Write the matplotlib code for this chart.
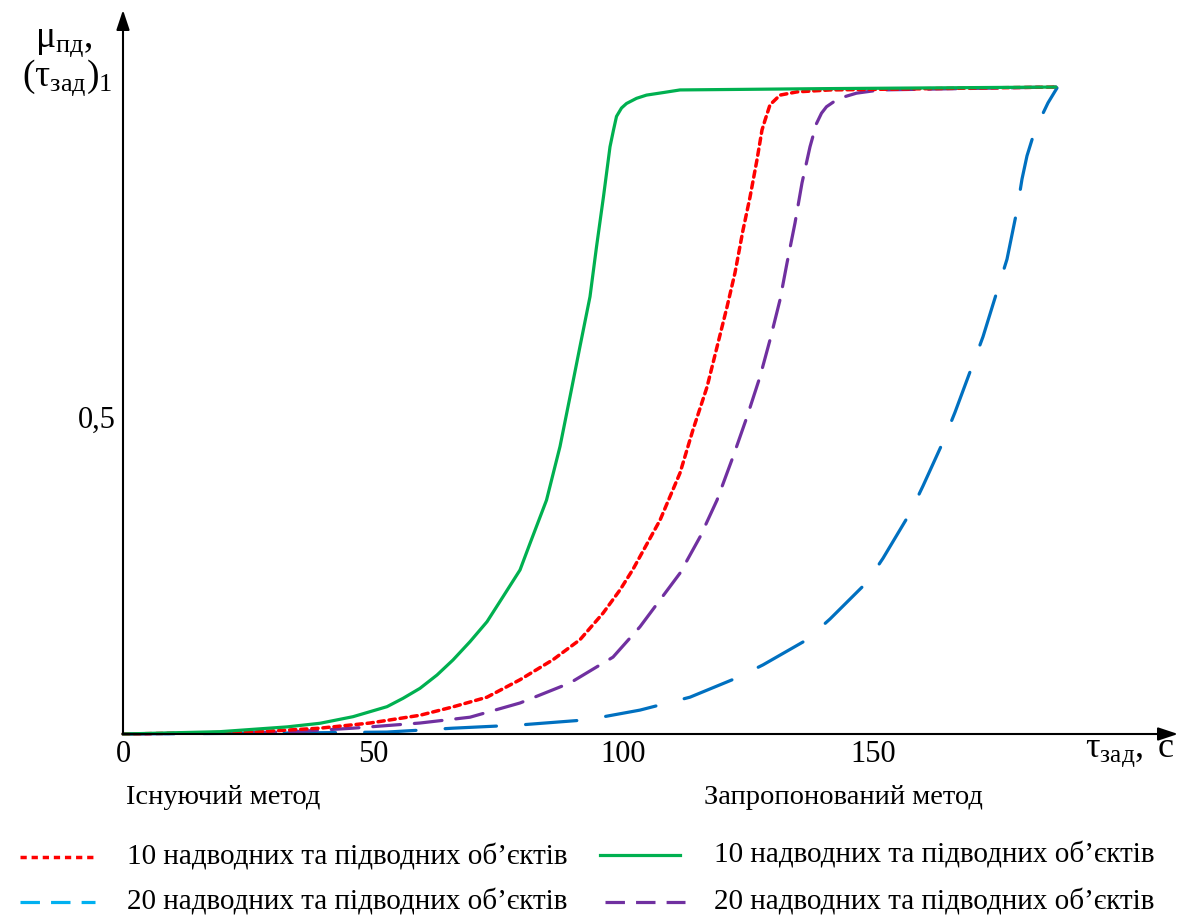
import matplotlib
matplotlib.use('Agg')
import matplotlib.pyplot as plt
from matplotlib.lines import Line2D
from matplotlib.transforms import ScaledTranslation

plt.rcParams['font.family'] = ['Liberation Serif', 'DejaVu Serif']
plt.rcParams['mathtext.fontset'] = 'custom'
plt.rcParams['mathtext.rm'] = 'Liberation Serif'
plt.rcParams['mathtext.it'] = 'Liberation Serif:italic'
plt.rcParams['lines.scale_dashes'] = False

# proposed method, 10 objects (green, solid)
green_x = [0, 19.4, 32.8, 39.4, 46, 52.8, 56, 59.4, 62.8, 66, 69.4, 72.8, 76, 79.4, 81.4,
           84.7, 87.4, 89.4, 91.4, 93.4, 94.7, 96.1, 97.4, 98.1, 98.7, 99.7, 100.7, 102.7,
           104.7, 108.1, 111.4, 140, 186.6]
green_y = [0, 0.0036, 0.011, 0.0166, 0.0268, 0.0423, 0.0552, 0.0707, 0.0913, 0.1146,
           0.1429, 0.1738, 0.2125, 0.2539, 0.295, 0.362, 0.445, 0.522, 0.600, 0.677, 0.754,
           0.832, 0.909, 0.935, 0.956, 0.969, 0.976, 0.984, 0.989, 0.993, 0.997, 0.999, 1.0015]

# existing method, 10 objects (red, dotted)
red_x = [0, 12.8, 26, 39.4, 49.4, 59.4, 66, 72.8, 79.4, 86, 91.4, 96, 99.4, 102, 107.4,
         111.4, 114, 116.8, 118.8, 120.8, 122.4, 124, 125.4, 126.8, 127.8, 128.4, 129.4,
         131.4, 134.8, 141.4, 151.4, 186.6]
red_y = [0, 0.0015, 0.003, 0.009, 0.017, 0.029, 0.042, 0.057, 0.084, 0.115, 0.146, 0.187,
         0.223, 0.255, 0.331, 0.404, 0.471, 0.537, 0.599, 0.661, 0.714, 0.780, 0.831, 0.889,
         0.935, 0.950, 0.974, 0.989, 0.994, 0.997, 0.998, 1.0015]

# proposed method, 20 objects (purple, dashed)
purple_x = [0, 16, 32.8, 46, 59.4, 69.4, 79.4, 89.4, 98, 103.4, 111.4, 115.4, 118.8, 122,
            124.8, 127.4, 129.4, 131.4, 132.8, 134.4, 135.8, 137.4, 138.7, 139.7, 140.7,
            142.4, 144.1, 146.7, 151.4, 186.6]
purple_y = [0, 0.0015, 0.003, 0.009, 0.017, 0.026, 0.048, 0.079, 0.119, 0.166, 0.249, 0.305,
            0.362, 0.429, 0.491, 0.553, 0.610, 0.672, 0.729, 0.791, 0.853, 0.909, 0.945,
            0.961, 0.971, 0.980, 0.986, 0.992, 0.997, 1.0015]

# existing method, 20 objects (blue, long dashes)
blue_x = [0, 32.8, 52.8, 66, 79.4, 92.8, 103.4, 113.4, 122.8, 128, 136.8, 141.4, 148.8,
          152, 157.4, 160, 164, 166.4, 170, 172, 175, 176.8, 178.8, 179.8, 180.8, 182.4,
          185, 186.8]
blue_y = [0, 0.0015, 0.003, 0.009, 0.014, 0.022, 0.037, 0.057, 0.087, 0.107, 0.146, 0.178,
          0.235, 0.272, 0.342, 0.384, 0.452, 0.498, 0.573, 0.615, 0.690, 0.735, 0.811,
          0.859, 0.895, 0.935, 0.977, 1.0]

x_ticks = [0, 50, 100, 150]
x_tick_labels = ['0', '50', '100', '150']
y_ticks = [0.5]
y_tick_labels = ['0,5']

GREEN = '#00b050'
RED = '#ff0000'
PURPLE = '#7030a0'
BLUE = '#0070c0'
LIGHT_BLUE = '#00b0f0'

RED_DASH = (0, (4.5, 3.5))
PURPLE_DASH = (0, (20, 10))
BLUE_DASH = (0, (37, 21))

W, H = 1195, 917
fig = plt.figure(figsize=(W / 100, H / 100), dpi=100)
ax = fig.add_axes([123 / W, (H - 734) / H, (1178 - 123) / W, (734 - 10) / H])
ax.set_xlim(0, (1178 - 123) / 5)
ax.set_ylim(0, (734 - 10) / 646)

style = dict(dash_capstyle='round', solid_capstyle='round', solid_joinstyle='round',
             dash_joinstyle='round', clip_on=False)
ax.plot(blue_x, blue_y, color=BLUE, lw=2.3, linestyle=BLUE_DASH, **style)
ax.plot(purple_x, purple_y, color=PURPLE, lw=2.3, linestyle=PURPLE_DASH, **style)
ax.plot(red_x, red_y, color=RED, lw=2.5, linestyle=RED_DASH, **style)
ax.plot(green_x, green_y, color=GREEN, lw=2.3, **style)

for s in ax.spines.values():
    s.set_visible(False)
ax.tick_params(length=0, labelsize=22)
ax.set_xticks(x_ticks, x_tick_labels)
ax.set_yticks(y_ticks, y_tick_labels)
ax.tick_params(axis='x', pad=4)
ax.tick_params(axis='y', pad=5)
for lab in ax.get_yticklabels():
    lab.set_transform(lab.get_transform() + ScaledTranslation(0, -6 / 100, fig.dpi_scale_trans))

arrow = dict(arrowstyle='-|>,head_length=0.6,head_width=0.2', color='black', lw=1.5,
             shrinkA=0, shrinkB=0, mutation_scale=20)
ax.annotate('', xy=(0, 1), xytext=(0, 0), xycoords='axes fraction', arrowprops=arrow)
ax.annotate('', xy=(1, 0), xytext=(0, 0), xycoords='axes fraction', arrowprops=arrow)


def fx(px):
    return px / W


def fy(py):
    return 1 - py / H


# axis labels
fig.text(fx(64), fy(42), r'$\mathrm{μ_{пд}},$', fontsize=27, ha='center', va='center')
fig.text(fx(67), fy(78), r'$\mathrm{(τ_{зад})_1}$', fontsize=27, ha='center', va='center')
fig.text(fx(1130), fy(754), r'$\mathrm{τ_{зад}},\ \mathrm{c}$', fontsize=26,
         ha='center', va='center')

# legend
fig.text(fx(126), fy(797), 'Існуючий метод', fontsize=20.5, va='center')
fig.text(fx(704), fy(797), 'Запропонований метод', fontsize=20.5, va='center')

label10 = '10 надводних та підводних об’єктів'
label20 = '20 надводних та підводних об’єктів'
legend_rows = [
    (20, 95, 857, RED, RED_DASH, 2.5, 127, label10),
    (20, 95, 902, LIGHT_BLUE, (0, (14, 8)), 2.3, 127, label20),
    (600, 680, 855, GREEN, '-', 2.3, 714, label10),
    (605, 685, 902, PURPLE, (0, (14, 8)), 2.3, 714, label20),
]
for x0, x1, y, col, ls, lw, tx, lab in legend_rows:
    fig.add_artist(Line2D([fx(x0), fx(x1)], [fy(y), fy(y)], transform=fig.transFigure,
                          color=col, linestyle=ls, lw=lw))
    fig.text(fx(tx), fy(y), lab, fontsize=21, va='center')

fig.savefig('out.png', dpi=100)
